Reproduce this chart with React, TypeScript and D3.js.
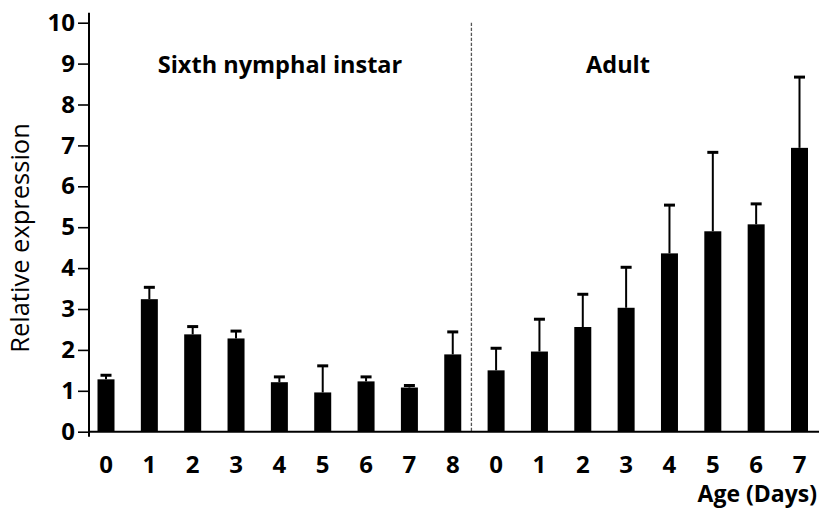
import React, { useRef, useEffect } from 'react';
import * as d3 from 'd3';

// day labels for the two stages
const nymphDays = ['0', '1', '2', '3', '4', '5', '6', '7', '8'];
const adultDays = ['0', '1', '2', '3', '4', '5', '6', '7'];

// mean relative expression
const nymphMeans = [1.28, 3.24, 2.38, 2.28, 1.21, 0.96, 1.23, 1.08, 1.89];
const adultMeans = [1.5, 1.96, 2.56, 3.03, 4.36, 4.9, 5.07, 6.94];

// upper error (SE) above each bar
const nymphErr = [0.1, 0.29, 0.19, 0.18, 0.13, 0.65, 0.11, 0.05, 0.55];
const adultErr = [0.54, 0.79, 0.8, 0.99, 1.18, 1.93, 0.5, 1.73];

const yTicks = [0, 1, 2, 3, 4, 5, 6, 7, 8, 9, 10];

const FONT = '"Open Sans", "DejaVu Sans", sans-serif';

export default function App() {
  const chartRef = useRef<SVGSVGElement | null>(null);
  const width = 819, height = 517;

  useEffect(() => {
    const svg = d3.select(chartRef.current);
    svg.selectAll('*').remove();

    const data = [
      ...nymphDays.map((d, i) => ({ id: 'n' + d, label: d, mean: nymphMeans[i], err: nymphErr[i] })),
      ...adultDays.map((d, i) => ({ id: 'a' + d, label: d, mean: adultMeans[i], err: adultErr[i] })),
    ];

    const axisX = 89;
    const xScale = d3.scalePoint<string>()
      .domain(data.map(d => d.id))
      .range([106, 799.5]);

    const yScale = d3.scaleLinear()
      .domain([0, 10])
      .range([431.7, 22.7]);

    const barW = 17;

    // bars
    svg.append('g').selectAll('rect').data(data).join('rect')
      .attr('x', d => (xScale(d.id) as number) - barW / 2)
      .attr('y', d => yScale(d.mean))
      .attr('width', barW)
      .attr('height', d => yScale(0) - yScale(d.mean))
      .attr('fill', '#000');

    // error bars (upper only)
    const eb = svg.append('g').selectAll('g').data(data).join('g');
    eb.append('line')
      .attr('x1', d => xScale(d.id) as number)
      .attr('x2', d => xScale(d.id) as number)
      .attr('y1', d => yScale(d.mean))
      .attr('y2', d => yScale(d.mean + d.err))
      .attr('stroke', '#000')
      .attr('stroke-width', 2);
    eb.append('line')
      .attr('x1', d => (xScale(d.id) as number) - 5.5)
      .attr('x2', d => (xScale(d.id) as number) + 5.5)
      .attr('y1', d => yScale(d.mean + d.err))
      .attr('y2', d => yScale(d.mean + d.err))
      .attr('stroke', '#000')
      .attr('stroke-width', 3);

    // stage divider
    const divX = ((xScale('n8') as number) + (xScale('a0') as number)) / 2 - 3;
    svg.append('line')
      .attr('x1', divX).attr('x2', divX)
      .attr('y1', yScale(10)).attr('y2', yScale(0))
      .attr('stroke', '#555')
      .attr('stroke-width', 1.3)
      .attr('stroke-dasharray', '3.3,1.7');

    // y axis
    const yAxis = svg.append('g')
      .attr('transform', `translate(${axisX},0)`)
      .call(d3.axisLeft(yScale).tickValues(yTicks).tickSize(11).tickPadding(3).tickFormat(d3.format('d')));
    yAxis.select('.domain').remove();
    yAxis.selectAll('line').attr('stroke', '#000').attr('stroke-width', 1.6);
    yAxis.selectAll('text')
      .attr('fill', '#000')
      .style('font-family', FONT)
      .style('font-size', '24px')
      .style('font-weight', 'bold');

    svg.append('line')
      .attr('x1', axisX).attr('x2', axisX)
      .attr('y1', yScale(10) - 10).attr('y2', yScale(0) + 5)
      .attr('stroke', '#000').attr('stroke-width', 2);

    // x axis line
    svg.append('line')
      .attr('x1', axisX).attr('x2', width)
      .attr('y1', yScale(0)).attr('y2', yScale(0))
      .attr('stroke', '#000').attr('stroke-width', 2);

    // x labels
    svg.append('g').selectAll('text').data(data).join('text')
      .attr('x', d => xScale(d.id) as number)
      .attr('y', 473)
      .attr('text-anchor', 'middle')
      .style('font-family', FONT)
      .style('font-size', '24px')
      .style('font-weight', 'bold')
      .text(d => d.label);

    svg.append('text')
      .attr('x', 817)
      .attr('y', 502)
      .attr('text-anchor', 'end')
      .style('font-family', FONT)
      .style('font-size', '23px')
      .style('font-weight', 'bold')
      .text('Age (Days)');

    // stage titles
    svg.append('text')
      .attr('x', 280)
      .attr('y', 73)
      .attr('text-anchor', 'middle')
      .style('font-family', FONT)
      .style('font-size', '23.5px')
      .style('font-weight', 'bold')
      .text('Sixth nymphal instar');

    svg.append('text')
      .attr('x', 618)
      .attr('y', 73)
      .attr('text-anchor', 'middle')
      .style('font-family', FONT)
      .style('font-size', '23.5px')
      .style('font-weight', 'bold')
      .text('Adult');

    // y label
    svg.append('text')
      .attr('transform', `translate(29,238) rotate(-90)`)
      .attr('text-anchor', 'middle')
      .style('font-family', FONT)
      .style('font-size', '25.5px')
      .text('Relative expression');
  }, []);

  return (
    <div style={{ position: 'absolute', left: 0, top: 0 }}>
      <svg width={width} height={height} ref={chartRef} style={{ display: 'block', background: '#fff' }} />
    </div>
  );
}
